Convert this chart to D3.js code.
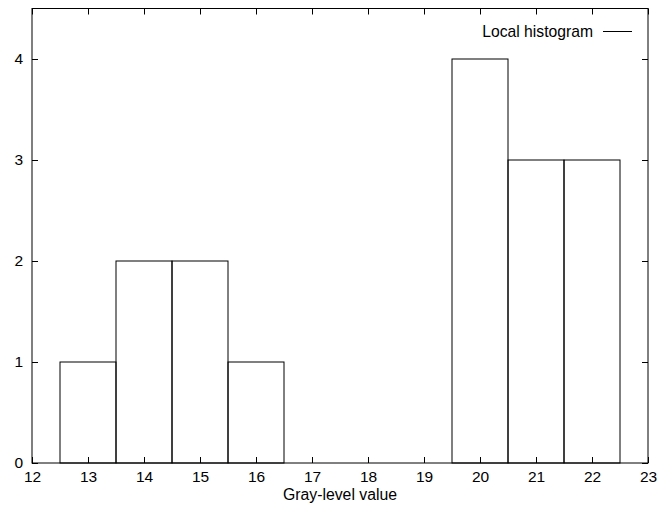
<!DOCTYPE html>
<html>
<head>
<meta charset="utf-8">
<script src="https://cdn.jsdelivr.net/npm/d3@7"></script>
<style>
  body { margin: 0; background: #fff; }
  text { font-family: "Liberation Sans", Arial, sans-serif; fill: #000; }
</style>
</head>
<body>
<div id="chart"></div>
<script>
// gray levels and their counts in the local window
const grayLevels = [13, 14, 15, 16, 17, 18, 19, 20, 21, 22];
const counts = [1, 2, 2, 1, 0, 0, 0, 4, 3, 3];
const xTicks = [12, 13, 14, 15, 16, 17, 18, 19, 20, 21, 22, 23];
const yTicks = [0, 1, 2, 3, 4];
const seriesName = 'Local histogram';
const xLabel = 'Gray-level value';

const width = 662, height = 505;
const margin = {top: 8.5, right: 14, bottom: 42, left: 32};

const svg = d3.select('#chart').append('svg')
  .attr('width', width).attr('height', height);

const x = d3.scaleLinear().domain([12, 23]).range([margin.left, width - margin.right]);
const y = d3.scaleLinear().domain([0, 4.5]).range([height - margin.bottom, margin.top]);

const tickLen = 6;

// bars
svg.selectAll('rect.bar')
  .data(grayLevels)
  .enter()
  .append('rect')
  .attr('class', 'bar')
  .attr('x', d => x(d - 0.5))
  .attr('width', d => x(d + 0.5) - x(d - 0.5))
  .attr('y', (d, i) => y(counts[i]))
  .attr('height', (d, i) => y(0) - y(counts[i]))
  .attr('fill', 'none')
  .attr('stroke', '#000')
  .attr('stroke-width', 1);

// axes, ticks inward and mirrored
const axisB = d3.axisBottom(x).tickValues(xTicks).tickSize(-tickLen).tickPadding(8).tickFormat(d3.format('d'));
const axisT = d3.axisTop(x).tickValues(xTicks).tickSize(-tickLen).tickFormat('');
const axisL = d3.axisLeft(y).tickValues(yTicks).tickSize(-tickLen).tickPadding(9).tickFormat(d3.format('d'));
const axisR = d3.axisRight(y).tickValues(yTicks).tickSize(-tickLen).tickFormat('');

function styleAxis(g) {
  g.select('.domain').remove();
  g.selectAll('.tick line').attr('stroke', '#000');
  g.selectAll('.tick text').attr('font-size', 15.5).attr('fill', '#000')
    .attr('font-family', '"Liberation Sans", Arial, sans-serif');
}

svg.append('g').attr('transform', `translate(0,${y(0)})`).call(axisB).call(styleAxis);
svg.append('g').attr('transform', `translate(0,${y(4.5)})`).call(axisT).call(styleAxis);
svg.append('g').attr('transform', `translate(${x(12)},0)`).call(axisL).call(styleAxis);
svg.append('g').attr('transform', `translate(${x(23)},0)`).call(axisR).call(styleAxis);

// frame
svg.append('rect')
  .attr('x', x(12)).attr('y', y(4.5))
  .attr('width', x(23) - x(12)).attr('height', y(0) - y(4.5))
  .attr('fill', 'none').attr('stroke', '#000').attr('stroke-width', 1);

// legend
svg.append('text')
  .attr('x', 593).attr('y', 36.5)
  .attr('text-anchor', 'end')
  .attr('font-size', 15.7)
  .text(seriesName);
svg.append('line')
  .attr('x1', 603).attr('x2', 632).attr('y1', 31.5).attr('y2', 31.5)
  .attr('stroke', '#000');

// x axis title
svg.append('text')
  .attr('x', (x(12) + x(23)) / 2)
  .attr('y', 499.5)
  .attr('text-anchor', 'middle')
  .attr('font-size', 15.8)
  .text(xLabel);
</script>
</body>
</html>
